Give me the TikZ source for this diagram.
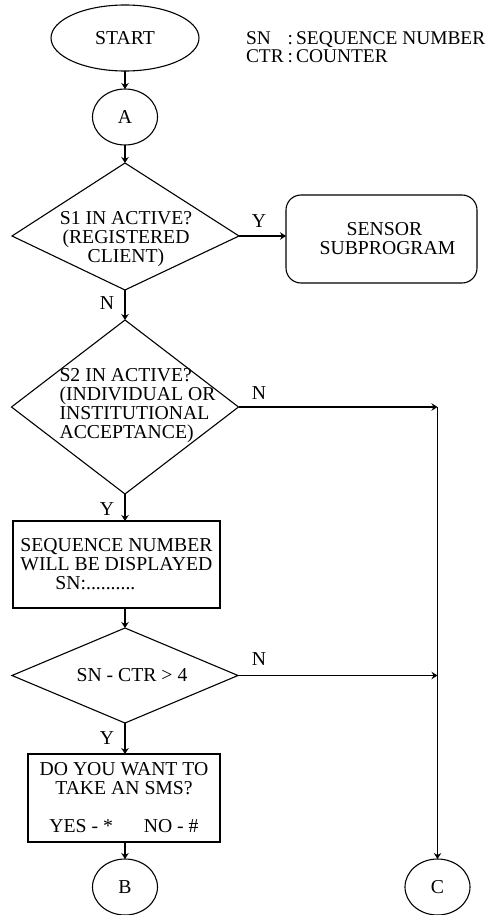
\documentclass[tikz,border=0pt]{standalone}
\usepackage{fontspec}
\setmainfont{Liberation Serif}
\usepackage{tikz}
\usetikzlibrary{shapes.geometric,arrows.meta}

\begin{document}
\begin{tikzpicture}[x=1pt,y=-1pt,line width=1.1pt,
  every node/.style={inner sep=0pt,outer sep=0pt,font=\fontsize{19.7}{19}\selectfont},
  term/.style={draw,ellipse,minimum width=148pt,minimum height=66pt},
  conn/.style={draw,ellipse,minimum width=65pt,minimum height=56pt},
  dec/.style={draw,diamond},
  proc/.style={draw,rectangle},
  flow/.style={-{Stealth[length=6pt,width=7.5pt,inset=2pt]}}]
\useasboundingbox (0,0) rectangle (492,915);
\node[term] (start) at (125,38) {START};
\node[anchor=north west,font=\fontsize{19.4}{18.6}\selectfont] (legend) at (246,31) {\begin{tabular}{@{}l@{\hspace{4pt}}l@{}}SN & :\hspace{3pt}SEQUENCE NUMBER\\CTR & :\hspace{3pt}COUNTER\end{tabular}};
\node[conn] (a) at (125,117) {A};
\coordinate (d1n) at (125,163);
\coordinate (d1w) at (12,236);
\coordinate (d1s) at (125,290);
\coordinate (d1e) at (239,236);
\draw (d1n) -- (d1w) -- (d1s) -- (d1e) -- cycle;
\node[align=center] (d1) at (126,239) {S1 IN ACTIVE?\\(REGISTERED\\CLIENT)};
\node[draw,rounded corners=15pt,minimum width=191pt,minimum height=88pt,align=center] (sensor) at (381.5,239) {\hspace*{6pt}SENSOR\\\hspace*{12pt}SUBPROGRAM};
\node[dec,minimum width=227pt,minimum height=174pt] (d2) at (125,407) {};
\node[align=left] (d2txt) at (137.5,406) {S2 IN ACTIVE?\\(INDIVIDUAL OR\\INSTITUTIONAL\\ACCEPTANCE)};
\node[proc,minimum width=207pt,minimum height=87pt,align=left] (seq) at (116.5,564.5) {SEQUENCE NUMBER\\WILL BE DISPLAYED\\\hspace*{35pt}SN:..........};
\node[dec,minimum width=226pt,minimum height=95pt] (d3) at (125,675.5) {};
\node (d3txt) at (132,675) {SN - CTR > 4};
\node[proc,minimum width=192pt,minimum height=88pt,align=center] (sms) at (124,798) {DO YOU WANT TO\\TAKE AN SMS?\\[19pt]YES - *\hspace{31pt}NO - \#};
\node[conn] (b) at (125,887) {B};
\node[conn] (c) at (437.5,887) {C};
\coordinate (j2) at (d2.east -| c.north);
\coordinate (j3) at (d3.east -| c.north);
\draw[flow] (start) -- (a);
\draw[flow] (a) -- (d1n);
\draw[flow] (d1e) -- (d1e -| sensor.west);
\draw[flow] (d1s) -- (d2.north);
\draw[flow] (d2.south) -- (d2.south |- seq.north);
\draw[flow] (seq.south -| d3.north) -- (d3.north);
\draw[flow] (d3.south) -- (d3.south |- sms.north);
\draw[flow] (sms.south -| b.north) -- (b.north);
\draw[flow] (d2.east) -- (j2);
\draw[flow] (d3.east) -- (j3);
\draw[flow] (j2) -- (c.north);
\foreach \x/\y/\t/\n in {259/221/Y/y1,107/303/N/n1,259/393/N/n2,107/509/Y/y2,259/659/N/n3,107/738/Y/y3}{
\node (\n) at (\x,\y) {\t};
}
\end{tikzpicture}
\end{document}
